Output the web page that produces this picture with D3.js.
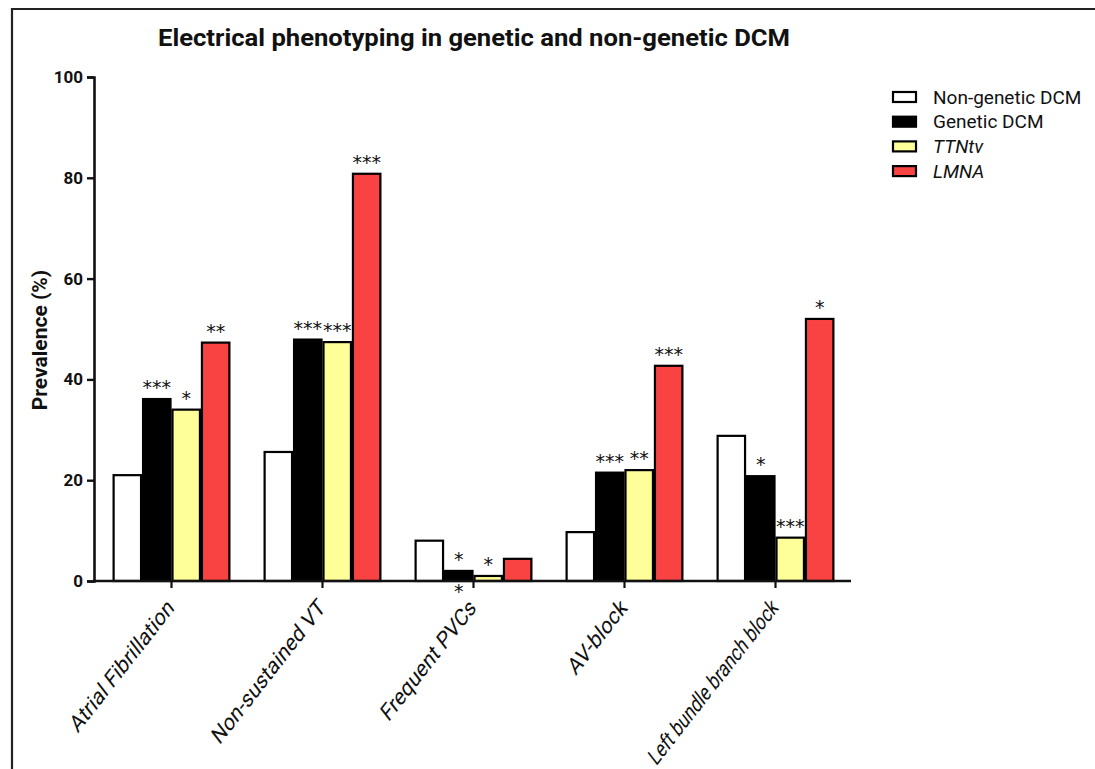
<!DOCTYPE html>
<html>
<head>
<meta charset="utf-8">
<script src="https://cdn.jsdelivr.net/npm/d3@7"></script>
<style>
  html, body { margin: 0; padding: 0; background: #fff; }
  svg { display: block; }
</style>
</head>
<body>
<svg id="chart" width="1095" height="769"></svg>
<script>
// Categories and series
const categories = ["Atrial Fibrillation", "Non-sustained VT", "Frequent PVCs", "AV-block", "Left bundle branch block"];
const seriesNames = ["Non-genetic DCM", "Genetic DCM", "TTNtv", "LMNA"];
const seriesItalic = [false, false, true, true];
const seriesColors = ["#ffffff", "#000000", "#ffff99", "#f94343"];

// Prevalence (%) per category, one array per series
const nonGenetic = [21.0, 25.6, 8.0, 9.7, 28.8];
const genetic    = [36.1, 47.9, 2.0, 21.5, 20.8];
const ttntv      = [34.0, 47.4, 1.0, 22.0, 8.6];
const lmna       = [47.3, 80.8, 4.4, 42.7, 52.0];

// Significance marks above bars (series x category)
const sigNonGenetic = ["", "", "", "", ""];
const sigGenetic    = ["***", "***", "*", "***", "*"];
const sigTtntv      = ["*", "***", "*", "**", "***"];
const sigLmna       = ["**", "***", "", "***", "*"];
// extra mark printed below the baseline
const sigGeneticBelow = ["", "", "*", "", ""];

const yTicks = [0, 20, 40, 60, 80, 100];

const values = [nonGenetic, genetic, ttntv, lmna];
const sigs = [sigNonGenetic, sigGenetic, sigTtntv, sigLmna];

const svg = d3.select("#chart");
const FONT = "Roboto, 'DejaVu Sans', sans-serif";

// outer frame
svg.append("path")
  .attr("d", "M12,769 L12,9 L1095,9")
  .attr("fill", "none")
  .attr("stroke", "#222")
  .attr("stroke-width", 2.2);

const plot = { left: 96, right: 851, top: 77, bottom: 581 };

const x0 = d3.scaleBand().domain(categories).range([plot.left, plot.right]).paddingInner(0.22).paddingOuter(0.11);
const x1 = d3.scaleBand().domain(seriesNames).range([0, x0.bandwidth()]).padding(0);
const y = d3.scaleLinear().domain([0, 100]).range([plot.bottom, plot.top]);

// Title
svg.append("text")
  .attr("x", 474).attr("y", 46)
  .attr("text-anchor", "middle")
  .attr("font-family", FONT)
  .attr("font-weight", "bold")
  .attr("font-size", 24)
  .attr("textLength", 632)
  .attr("lengthAdjust", "spacingAndGlyphs")
  .attr("fill", "#111")
  .text("Electrical phenotyping in genetic and non-genetic DCM");

// Bars
const rows = [];
categories.forEach((c, ci) => {
  seriesNames.forEach((s, si) => {
    rows.push({ cat: c, ser: s, si, ci, v: values[si][ci], sig: sigs[si][ci] });
  });
});

svg.append("g").selectAll("rect").data(rows).join("rect")
  .attr("x", d => x0(d.cat) + x1(d.ser) + 1)
  .attr("y", d => y(d.v))
  .attr("width", x1.bandwidth() - 2)
  .attr("height", d => y(0) - y(d.v))
  .attr("fill", d => seriesColors[d.si])
  .attr("stroke", "#000")
  .attr("stroke-width", 2.2);

// Significance marks
svg.append("g").selectAll("text").data(rows.filter(d => d.sig)).join("text")
  .attr("x", d => x0(d.cat) + x1(d.ser) + x1.bandwidth() / 2)
  .attr("y", d => y(d.v) - 5)
  .attr("text-anchor", "middle")
  .attr("font-family", "'DejaVu Sans', sans-serif")
  .attr("font-size", 19)
  .attr("fill", "#111")
  .text(d => d.sig);

svg.append("g").selectAll("text").data(categories.map((c, ci) => ({ c, s: sigGeneticBelow[ci] })).filter(d => d.s)).join("text")
  .attr("x", d => x0(d.c) + x1("Genetic DCM") + x1.bandwidth() / 2)
  .attr("y", y(0) + 17)
  .attr("text-anchor", "middle")
  .attr("font-family", "'DejaVu Sans', sans-serif")
  .attr("font-size", 19)
  .attr("fill", "#111")
  .text(d => d.s);

// Y axis
const yAxis = svg.append("g")
  .attr("transform", `translate(${plot.left - 2},0)`)
  .call(d3.axisLeft(y).tickValues(yTicks).tickSize(7).tickPadding(4));
yAxis.select(".domain").attr("stroke", "#111").attr("stroke-width", 2.6);
yAxis.selectAll(".tick line").attr("stroke", "#111").attr("stroke-width", 2.4);
yAxis.selectAll(".tick text")
  .attr("font-family", FONT)
  .attr("font-weight", "bold")
  .attr("font-size", 17)
  .attr("fill", "#111");

// X axis
const xAxis = svg.append("g")
  .attr("transform", `translate(0,${plot.bottom})`)
  .call(d3.axisBottom(x0).tickSize(7).tickSizeOuter(0).tickPadding(6));
xAxis.select(".domain").attr("stroke", "#111").attr("stroke-width", 2.6)
  .attr("d", `M${plot.left - 3},0H${plot.right}`);
xAxis.selectAll(".tick line").attr("stroke", "#111").attr("stroke-width", 2.2);
const maxLabelLen = 174;
xAxis.selectAll(".tick text")
  .attr("font-family", FONT)
  .attr("font-size", 19)
  .attr("fill", "#111")
  .attr("text-anchor", "end")
  .attr("y", 0)
  .attr("dy", "0.35em")
  .attr("transform", "translate(-1,22) scale(1,1.28) rotate(-45)")
  .each(function () {
    // keep long labels inside the frame
    if (this.getComputedTextLength() > maxLabelLen) {
      d3.select(this).attr("textLength", maxLabelLen).attr("lengthAdjust", "spacingAndGlyphs");
    }
  });

// Y axis title
svg.append("text")
  .attr("transform", "translate(47,340) rotate(-90)")
  .attr("text-anchor", "middle")
  .attr("font-family", FONT)
  .attr("font-weight", "bold")
  .attr("font-size", 21)
  .attr("fill", "#111")
  .text("Prevalence (%)");

// Legend
const legend = svg.append("g").attr("transform", "translate(893,97)");
const lg = legend.selectAll("g").data(seriesNames).join("g")
  .attr("transform", (d, i) => `translate(0,${i * 24.7})`);
lg.append("rect")
  .attr("x", 0).attr("y", -5)
  .attr("width", 23).attr("height", 10)
  .attr("fill", (d, i) => seriesColors[i])
  .attr("stroke", "#000").attr("stroke-width", 2.2);
lg.append("text")
  .attr("x", 40).attr("y", 0).attr("dy", "0.35em")
  .attr("font-family", FONT)
  .attr("font-size", 19)
  .attr("font-style", (d, i) => seriesItalic[i] ? "italic" : "normal")
  .attr("fill", "#111")
  .text(d => d);
</script>
</body>
</html>
